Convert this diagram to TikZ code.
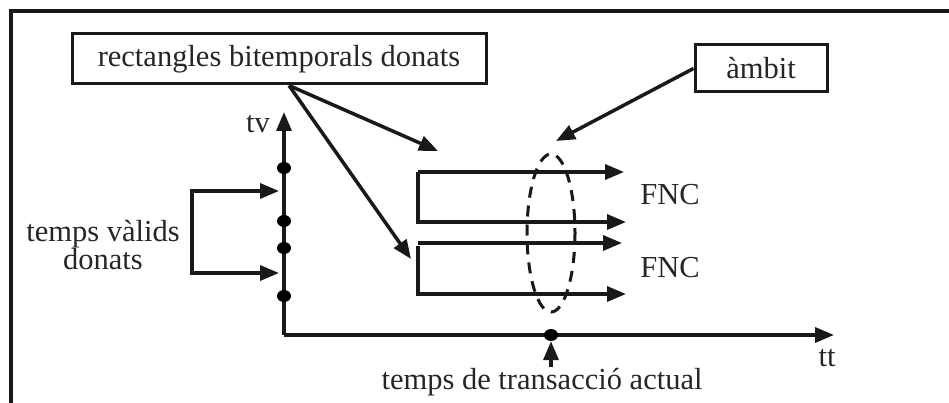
\documentclass[tikz,border=0pt]{standalone}
\usepackage{fontspec}
\setmainfont{Liberation Serif}
\usetikzlibrary{arrows.meta,shapes.geometric}
\tikzset{
	lbox/.style={draw, line width=3pt, inner sep=0pt, font=\fontsize{30.5}{28}\selectfont},
	lbl/.style={inner sep=0pt, font=\fontsize{30.5}{28}\selectfont, align=center},
	harrow/.style={line width=3.5pt, -{Triangle[length=19pt,width=15pt]}},
	dot/.style={fill=black, draw=none, ellipse, minimum width=14pt, minimum height=12pt, inner sep=0pt}
}

\begin{document}
\begin{tikzpicture}[x=1pt, y=-1pt, color=black!90, text=black!85]
			%%%%% START %%%%%
			\useasboundingbox (0, 0) rectangle (949, 403);
			
			\draw[line width=3.5pt] (11, 403) -- (11, 11) -- (949, 11);
			
			\node[lbox, minimum width=414pt, minimum height=50pt] (given) at (279, 59) {rectangles bitemporals donats};
			\node[lbox, minimum width=132pt, minimum height=47pt] (scope) at (761, 68.5) {àmbit};
			
			\coordinate (orig) at (284, 335);
			\coordinate (tvend) at (284, 112);
			\coordinate (ttend) at (834, 335);
			\draw[harrow] (orig) -- (tvend);
			\draw[harrow] (orig) -- (ttend);
			\node[lbl] (tv) at (258, 124) {tv};
			\node[lbl] (tt) at (827, 358) {tt};
			
			\node[dot] (v1) at (284, 168) {};
			\node[dot] (v2) at (284, 221) {};
			\node[dot] (v3) at (284, 248) {};
			\node[dot] (v4) at (284, 296) {};
			\node[dot] (now) at (551, 335) {};
			
			\node[lbl] (valid) at (103, 245) {temps vàlids\\donats};
			\coordinate (vtop) at (279, 191);
			\coordinate (vbot) at (279, 273);
			\draw[harrow] (192, 273) -- (192, 191) -- (vtop);
			\draw[harrow] (192, 248) -- (192, 273) -- (vbot);
			
			\node[lbl] (actual) at (542, 382) {temps de transacció actual};
			\draw[harrow] (551, 367) -- (now.south);
			
			% rectangles
			\draw[harrow] (418, 172) -- (624, 172);
			\draw[harrow] (418, 172) -- (418, 222) -- (626, 222);
			\draw[harrow] (418, 243) -- (622, 243);
			\draw[harrow] (418, 246) -- (418, 294) -- (626, 294);
			\node[lbl] (fnc1) at (670, 195) {FNC};
			\node[lbl] (fnc2) at (670, 268) {FNC};
			
			\draw[line width=3pt, dash pattern=on 11pt off 8pt] (551, 233) ellipse (24 and 79);
			
			\coordinate (r1) at (438, 151);
			\coordinate (r2) at (411, 259);
			\coordinate (amb) at (556, 141);
			\draw[harrow] ([xshift=10pt]given.south) -- (r1);
			\draw[harrow] ([xshift=10pt]given.south) -- (r2);
			\draw[harrow] (scope.west) -- (amb);
			
			%%%%% END %%%%%
		\end{tikzpicture}
\end{document}
